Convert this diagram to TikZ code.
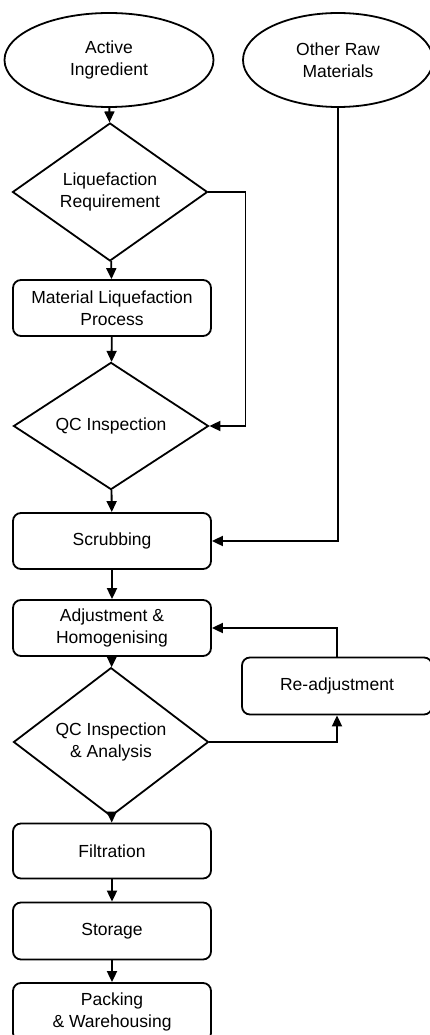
\documentclass[tikz,border=0pt]{standalone}
\usepackage{fontspec}
\setmainfont{Liberation Sans}
\usetikzlibrary{arrows.meta,positioning,shapes.geometric}
\definecolor{ink}{HTML}{000000}
\tikzset{
  every node/.style={font=\fontsize{17.5}{21.5}\selectfont, text=ink},
  proc/.style={draw=ink, rounded corners=8pt, line width=1.8pt, fill=white, align=center, inner sep=0pt, minimum width=198pt, minimum height=56pt},
  source/.style={ellipse, draw=ink, line width=1.8pt, align=center, inner sep=0pt, minimum height=94pt},
  check/.style={diamond, draw=ink, line width=1.8pt, align=center, inner sep=0pt, minimum width=195pt, minimum height=111pt},
  arrow/.style={-{Triangle[length=11pt,width=10pt]}, line width=1.8pt, draw=ink},
}
\begin{document}
\begin{tikzpicture}[x=1pt,y=-1pt]
\useasboundingbox (0,0) rectangle (430,1035);
\clip (0,0) rectangle (430,1035);
% raw materials
\node[source, minimum width=209pt] (ai) at (109,60) {Active\\Ingredient};
\node[source, minimum width=190pt] (orm) at (338,60) {Other Raw\\Materials};
% liquefaction branch
\node[check] (liq) at (110,192) {Liquefaction\\Requirement};
\node[proc] (mlp) at (112,308) {Material Liquefaction\\Process};
\node[check] (qc) at (111,426) {QC Inspection};
% main line
\node[proc] (scrub) at (112,541) {Scrubbing};
\node[proc] (adj) at (112,628) {Adjustment \&\\Homogenising};
\node[proc, minimum width=190pt, minimum height=57pt] (readj) at (337,686) {Re-adjustment};
\node[check, minimum height=110pt] (qca) at (111,742) {QC Inspection\\\& Analysis};
\node[proc, minimum height=55pt] (filt) at (112,851) {Filtration};
\node[proc, minimum height=57pt] (stor) at (112,931) {Storage};
\node[proc, minimum height=58pt] (pack) at (112,1012) {Packing\\\& Warehousing};
\draw[arrow](ai)--(liq);\draw[arrow](liq)--(mlp);\draw[arrow](mlp)--(qc);\draw[arrow](qc)--(scrub);
\draw[arrow](liq.east)--++(37,0)|-(qc.east);
\draw[arrow](orm.south)|-(scrub.east);
\draw[arrow](scrub)--(adj);\draw[arrow](adj)--(qca);
\draw[arrow](qca.east)-|(readj.south);\draw[arrow](readj.north)|-(adj.east);
\draw[arrow](qca)--(filt);\draw[arrow](filt)--(stor);\draw[arrow](stor)--(pack);
\end{tikzpicture}
\end{document}
